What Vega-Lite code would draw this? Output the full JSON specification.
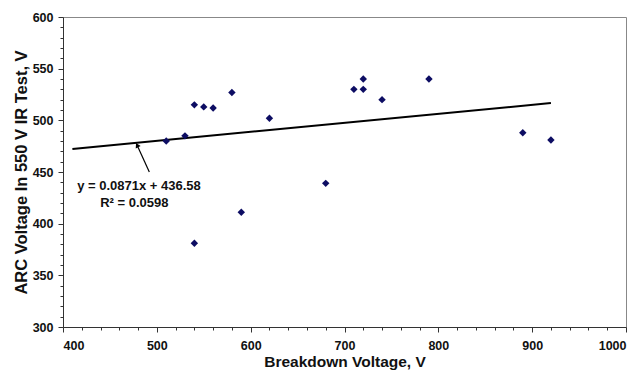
{
  "$schema": "https://vega.github.io/schema/vega-lite/v6.json",
  "width": 563,
  "height": 310,
  "autosize": "none",
  "padding": {"left": 63, "top": 17, "right": 17, "bottom": 46},
  "background": "white",
  "config": {
    "font": "Liberation Sans",
    "view": {"stroke": "#888888", "strokeWidth": 1},
    "axis": {
      "grid": false,
      "domainColor": "#333333",
      "tickColor": "#333333",
      "labelFont": "Liberation Sans",
      "labelFontWeight": "bold",
      "labelFontSize": 12.5,
      "labelColor": "#111111",
      "titleFont": "Liberation Sans",
      "titleFontWeight": "bold",
      "titleColor": "#111111",
      "labelOverlap": false
    }
  },
  "datasets": {
    "pts": [
      {"x": 510, "y": 480}, {"x": 530, "y": 485}, {"x": 540, "y": 515},
      {"x": 550, "y": 513}, {"x": 560, "y": 512}, {"x": 580, "y": 527},
      {"x": 620, "y": 502}, {"x": 540, "y": 381}, {"x": 590, "y": 411},
      {"x": 680, "y": 439}, {"x": 710, "y": 530}, {"x": 720, "y": 530},
      {"x": 720, "y": 540}, {"x": 740, "y": 520}, {"x": 790, "y": 540},
      {"x": 890, "y": 488}, {"x": 920, "y": 481}
    ],
    "trend": [{"x": 410, "y": 472.3}, {"x": 920, "y": 516.7}],
    "notes": [
      {"x": 481, "y": 436, "label": "y = 0.0871x + 436.58"},
      {"x": 476, "y": 420, "label": "R² = 0.0598"}
    ],
    "arrow": [{"x": 492, "y": 450, "x2": 479, "y2": 476}],
    "head": [{"x": 479, "y": 476}]
  },
  "encoding": {
    "x": {"field": "x", "type": "quantitative", "scale": {"domain": [400, 1000], "nice": false, "zero": false},
      "axis": {
        "title": "Breakdown Voltage, V",
        "titleFontSize": 15.5,
        "titlePadding": 3,
        "values": [400,420,440,460,480,500,520,540,560,580,600,620,640,660,680,700,720,740,760,780,800,820,840,860,880,900,920,940,960,980,1000],
        "labelExpr": "datum.value % 100 === 0 ? datum.label : ''",
        "labelOverlap": false,
        "format": "d",
        "tickSize": {"condition": {"test": "datum.value % 100 === 0", "value": 5}, "value": 3},
        "labelPadding": 7
      }},
    "y": {"field": "y", "type": "quantitative", "scale": {"domain": [300, 600], "nice": false, "zero": false},
      "axis": {
        "title": "ARC Voltage In 550 V IR Test, V",
        "titleFontSize": 16.5,
        "titlePadding": 3,
        "values": [300,310,320,330,340,350,360,370,380,390,400,410,420,430,440,450,460,470,480,490,500,510,520,530,540,550,560,570,580,590,600],
        "labelExpr": "datum.value % 50 === 0 ? datum.label : ''",
        "labelOverlap": false,
        "tickSize": {"condition": {"test": "datum.value % 50 === 0", "value": 5}, "value": 3},
        "labelPadding": 5
      }}
  },
  "layer": [
    {
      "data": {"name": "trend"},
      "mark": {"type": "line", "color": "#000000", "strokeWidth": 2}
    },
    {
      "data": {"name": "pts"},
      "mark": {"type": "point", "shape": "diamond", "filled": true, "color": "#0d0d63", "opacity": 1, "size": 55}
    },
    {
      "data": {"name": "arrow"},
      "mark": {"type": "rule", "color": "#000000", "strokeWidth": 1.2},
      "encoding": {
        "x2": {"field": "x2"},
        "y2": {"field": "y2"}
      }
    },
    {
      "data": {"name": "head"},
      "mark": {"type": "point", "shape": "triangle-up", "filled": true, "color": "#000000", "opacity": 1, "size": 30, "angle": 333}
    },
    {
      "data": {"name": "notes"},
      "mark": {"type": "text", "font": "Liberation Sans", "fontWeight": "bold", "fontSize": 13, "color": "#111111", "align": "center", "baseline": "middle"},
      "encoding": {
        "text": {"field": "label"}
      }
    }
  ]
}
